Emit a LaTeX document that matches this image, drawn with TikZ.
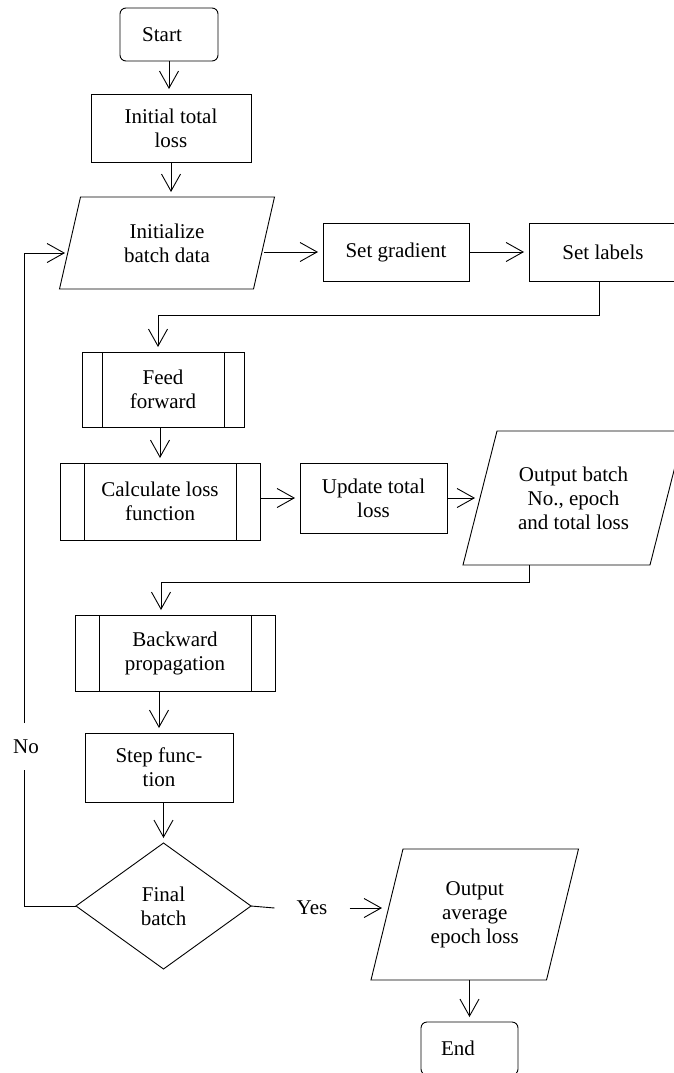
\documentclass[tikz,border=0pt]{standalone}
\usepackage{fontspec}
\setmainfont{Liberation Serif}
\usetikzlibrary{shapes.geometric,arrows.meta,calc}
\begin{document}
\begin{tikzpicture}[x=1pt,y=-1pt,
  every node/.style={font=\fontsize{21}{24}\selectfont, align=center, outer sep=0pt, inner sep=2pt},
  line/.style={line width=0.9pt},
  arr/.style={line, -{Straight Barb[length=17pt,width=19pt,line width=0.9pt]}, shorten >=5pt},
  term/.style={draw, line width=0.9pt, rounded corners=6pt},
  proc/.style={draw, line width=0.9pt},
  subproc/.style={proc, path picture={
      \draw[line width=0.9pt]
        ([xshift=#1]path picture bounding box.north west) -- ([xshift=#1]path picture bounding box.south west)
        ([xshift=-#1]path picture bounding box.north east) -- ([xshift=-#1]path picture bounding box.south east);}},
  io/.style={draw=none},
  decision/.style={draw, line width=0.9pt, shape=diamond, aspect=1.39, inner sep=0pt},
  lbl/.style={inner sep=0pt}
]
\useasboundingbox (0,0) rectangle (673,1073);

% main column
\node[term, minimum width=98pt, minimum height=53pt] (start) at (169,34.5) {Start\hspace*{14pt}};
\node[proc, minimum width=160pt, minimum height=68pt] (total) at (171,128) {Initial total\\loss};
\node[io, minimum width=194pt, minimum height=92pt] (batch) at (167,243) {Initialize\\batch data};
\node[proc, minimum width=146pt, minimum height=58pt] (grad) at (396,252) {Set gradient};
\node[proc, minimum width=148pt, minimum height=58pt] (labels) at (603,252) {Set labels};
\node[subproc=20pt, minimum width=162pt, minimum height=75pt] (feed) at (163,389.5) {Feed\\forward};
\node[subproc=24pt, minimum width=200pt, minimum height=77pt] (calc) at (160,501.5) {Calculate loss\\function};
\node[proc, minimum width=147pt, minimum height=70pt] (update) at (373.5,498) {Update total\\loss};
\node[io, minimum width=187pt, minimum height=134pt] (outb) at (573.5,498) {Output batch\\No., epoch\\and total loss};
\node[subproc=24pt, minimum width=200pt, minimum height=76pt] (back) at (175,653) {Backward\\propagation};
\node[proc, minimum width=148pt, minimum height=69pt] (step) at (159,767.5) {Step func-\\tion};
\node[decision, minimum width=175pt, minimum height=126pt] (final) at (163.5,906) {Final\\batch};
\node[io, minimum width=175.5pt, minimum height=131pt] (outa) at (474.75,914.5) {Output\\average\\epoch loss};
\node[term, minimum width=97pt, minimum height=53pt] (end) at (469.5,1048.5) {End\hspace*{23pt}};
\node[lbl, minimum height=47pt] (no) at (26,746.5) {No};
\node[lbl, minimum width=75pt] (yes) at (312,908) {Yes};

% slanted input/output outlines
\foreach \n/\s in {batch/10.5, outb/17, outa/16}
  \draw[line] ([xshift=\s pt]\n.north west) -- ([xshift=\s pt]\n.north east)
    -- ([xshift=-\s pt]\n.south east) -- ([xshift=-\s pt]\n.south west) -- cycle;

% connectors
\draw[arr] (start.south) -- (start.south |- total.north);
\draw[arr] (total.south) -- (total.south |- batch.north);
\draw[arr] (batch.east |- grad.west) -- (grad.west);
\draw[arr] (grad.east) -- (labels.west);
\draw[arr] ([xshift=-4pt]labels.south) -- ++(0,34) -| ([xshift=-5pt]feed.north);
\draw[arr] (calc.north |- feed.south) -- (calc.north);
\draw[arr] (calc.east |- update.west) -- (update.west);
\draw[arr] (update.east) -- (outb.west);
\draw[arr] ([xshift=-44pt]outb.south) -- ++(0,17) -| ([xshift=-14pt]back.north);
\draw[arr] (step.north |- back.south) -- (step.north);
\draw[arr] (final.north |- step.south) -- (final.north);
\draw[line] (final.west) -| ([xshift=-2pt]no.south);
\draw[arr] ([xshift=-2pt]no.north) |- ([yshift=-10pt]batch.west);
\draw[line] (final.east) -- (yes.west);
\draw[arr] (yes.east) -- (yes.east -| outa.west);
\draw[arr] (end.north |- outa.south) -- (end.north);
\end{tikzpicture}
\end{document}
